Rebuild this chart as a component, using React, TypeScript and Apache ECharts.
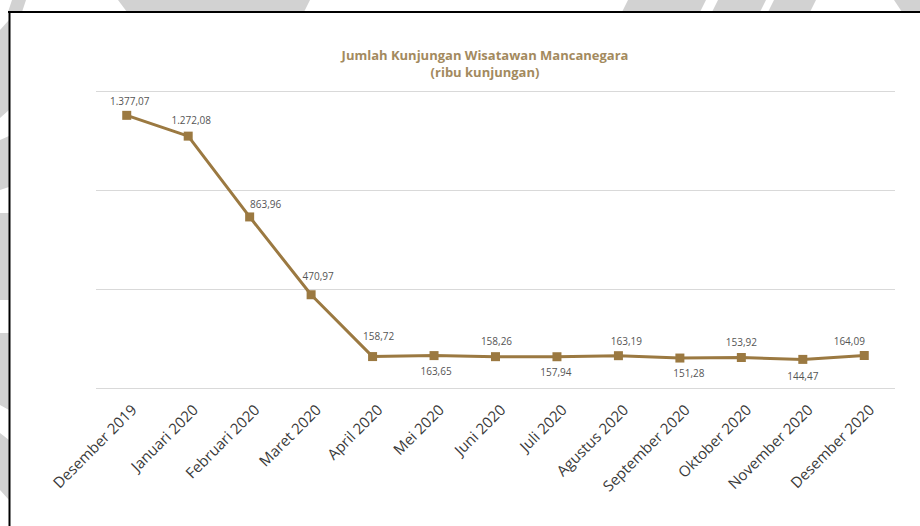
import React, { useEffect, useRef } from "react";
import * as echarts from "echarts";

const categories = [
  "Desember 2019", "Januari 2020", "Februari 2020", "Maret 2020", "April 2020",
  "Mei 2020", "Juni 2020", "Juli 2020", "Agustus 2020", "September 2020",
  "Oktober 2020", "November 2020", "Desember 2020",
];
const visitors = [
  1377.07, 1272.08, 863.96, 470.97, 158.72, 163.65, 158.26, 157.94, 163.19,
  151.28, 153.92, 144.47, 164.09,
];
const titleLines = ["Jumlah Kunjungan Wisatawan Mancanegara", "(ribu kunjungan)"];
const yMin = 0;
const yMax = 1500;
const yStep = 500;

// label placement (style only)
const labelSide = ["top", "top", "top", "top", "top", "bottom", "top", "bottom", "top", "bottom", "top", "bottom", "top"];
const labelShift = [
  [3, 0], [3, -2], [16, 2], [7, -4], [6, -6], [2, 1], [1, -1], [-1, 1], [8, 0], [9, 0], [0, -1], [0, 2], [-15, 0],
];

// watermark slivers outside the framed box
const watermark: number[][][] = [
  [[12, 0], [26, 0], [22, 12], [8, 12]],
  [[118, 0], [310, 0], [304, 12], [127, 12]],
  [[628, 0], [706, 0], [700, 12], [622, 12]],
  [[718, 0], [766, 0], [760, 12], [712, 12]],
  [[774, 0], [816, 0], [810, 12], [768, 12]],
  [[894, 0], [920, 0], [920, 12], [902, 12]],
  [[0, 30], [9, 20], [9, 110], [0, 118]],
  [[0, 140], [9, 136], [9, 187], [0, 190]],
  [[0, 213], [9, 213], [9, 300], [0, 300]],
  [[0, 333], [9, 333], [9, 410], [0, 405]],
  [[0, 433], [9, 440], [9, 500], [0, 490]],
];

function fmt(v: number): string {
  const [i, d] = v.toFixed(2).split(".");
  return i.replace(/\B(?=(\d{3})+(?!\d))/g, ".") + "," + d;
}

export default function App() {
  const ref = useRef<HTMLDivElement>(null);
  useEffect(() => {
    if (!ref.current) return;
    const chart = echarts.init(ref.current, undefined, { renderer: "svg" });
    const gold = "#9b7941";
    chart.setOption({
      animation: false,
      backgroundColor: "#ffffff",
      title: {
        text: titleLines.join("\n"),
        left: 480,
        top: 41,
        textAlign: "center",
        textStyle: {
          fontFamily: "Open Sans",
          fontSize: 13,
          fontWeight: "bold",
          color: "#a38a5e",
          lineHeight: 17,
          align: "center",
        },
      },
      graphic: [
        ...watermark.map((pts) => ({
          type: "polygon",
          shape: { points: pts },
          style: { fill: "#d2d2d2" },
          silent: true,
        })),
        {
          type: "line",
          shape: { x1: 8, y1: 12, x2: 920, y2: 12 },
          style: { stroke: "#000", lineWidth: 2 },
          silent: true,
        },
        {
          type: "line",
          shape: { x1: 9.5, y1: 11, x2: 9.5, y2: 526 },
          style: { stroke: "#000", lineWidth: 2 },
          silent: true,
        },
      ],
      grid: { left: 96, right: 25, top: 91, bottom: 138, containLabel: false },
      xAxis: {
        type: "category",
        data: categories,
        boundaryGap: true,
        axisLine: { show: false },
        axisTick: { show: false },
        axisLabel: {
          rotate: 45,
          interval: 0,
          margin: 12,
          fontFamily: "Open Sans",
          fontSize: 15,
          color: "#3a3a3a",
          verticalAlign: "top",
          padding: [2, 0, 0, 0],
        },
      },
      yAxis: {
        type: "value",
        min: yMin,
        max: yMax,
        interval: yStep,
        axisLabel: { show: false },
        axisLine: { show: false },
        axisTick: { show: false },
        splitLine: { lineStyle: { color: "#d9d9d9", width: 1 } },
      },
      series: [
        {
          type: "line",
          data: visitors.map((v, i) => ({
            value: v,
            label: { position: labelSide[i], offset: labelShift[i] },
          })),
          symbol: "rect",
          symbolSize: 9,
          lineStyle: { color: gold, width: 3 },
          itemStyle: { color: gold },
          label: {
            show: true,
            fontFamily: "Open Sans",
            fontSize: 10,
            color: "#555555",
            formatter: (p: any) => fmt(p.value),
          },
        },
      ],
    });
    return () => chart.dispose();
  }, []);
  return (
    <div
      ref={ref}
      style={{ position: "fixed", left: 0, top: 0, width: 920, height: 526 }}
    />
  );
}
